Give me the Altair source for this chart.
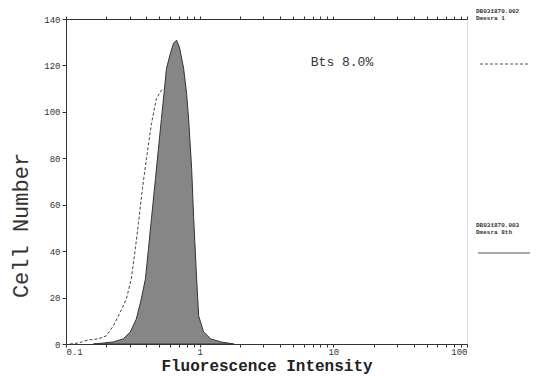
import altair as alt
import pandas as pd

# Filled histogram (stained sample)
fill_x = [0.160, 0.190, 0.226, 0.268, 0.303, 0.336, 0.366, 0.393, 0.414, 0.436,
          0.467, 0.492, 0.518, 0.546, 0.565, 0.605, 0.638, 0.672, 0.708, 0.758,
          0.798, 0.826, 0.871, 0.902, 0.949, 0.983, 1.07, 1.21, 1.44, 1.80]
fill_y = [0, 0.4, 0.9, 2.2, 5.2, 10.8, 19.4, 28.1, 41.0, 54.0,
          71.3, 84.3, 97.2, 110.2, 118.8, 125.3, 129.6, 130.9, 127.5, 118.8,
          108.0, 97.2, 75.6, 54.0, 28.1, 12.1, 5.2, 2.2, 0.9, 0]

# Dashed histogram (control)
dash_x = [0.107, 0.123, 0.146, 0.174, 0.200, 0.226, 0.255, 0.283, 0.308, 0.330,
          0.348, 0.373, 0.400, 0.436, 0.475, 0.518, 0.555, 0.638, 0.758, 0.871,
          0.949, 1.07, 1.27]
dash_y = [0, 0.4, 1.7, 2.2, 3.5, 7.8, 13.8, 19.4, 28.1, 41.0,
          51.8, 67.0, 79.9, 95.0, 105.8, 109.3, 110.2, 100, 70, 30,
          8, 1.5, 0]

x_ticks = [0.1, 0.2, 0.3, 0.4, 0.5, 0.6, 0.7, 0.8, 0.9,
           1, 2, 3, 4, 5, 6, 7, 8, 9,
           10, 20, 30, 40, 50, 60, 70, 80, 90, 100]
y_ticks = [0, 20, 40, 60, 80, 100, 120, 140]

annotation = "Bts 8.0%"
legend1 = ["DB031870.002", "Dmesra 1"]
legend2 = ["DB031870.003", "Dmesra 8th"]

FONT = "Liberation Mono"

df_fill = pd.DataFrame({"x": fill_x, "y": fill_y})
df_dash = pd.DataFrame({"x": dash_x, "y": dash_y})

xscale = alt.Scale(type="log", domain=[0.1, 100], nice=False)
yscale = alt.Scale(domain=[0, 140], nice=False)

label_expr = "(datum.value == 0.1 || datum.value == 1 || datum.value == 10 || datum.value == 100) ? datum.label : ''"

xaxis = alt.Axis(values=x_ticks, format="~g", labelExpr=label_expr, labelOverlap=False,
                 labelFlush=True, title="Fluorescence Intensity", titleFont=FONT,
                 titleFontSize=16, titleFontWeight="bold", titleColor="#222",
                 titlePadding=1, labelFont=FONT, labelFontSize=9, labelColor="#333",
                 tickSize=3, tickColor="#333", domainColor="#333", grid=False,
                 labelPadding=0, orient="bottom")
top_axis = alt.Axis(orient="top", values=x_ticks, labels=False, title=None,
                    tickSize=3, tickColor="#333", domainColor="#333", grid=False)
yaxis = alt.Axis(values=y_ticks, title="Cell Number", titleFont=FONT, titleFontSize=22,
                 titleFontWeight="normal", titleColor="#333", titleX=-34, titleY=206,
                 labelFont=FONT, labelFontSize=9, labelColor="#333", tickSize=4,
                 tickColor="#333", domainColor="#333", grid=False, labelPadding=2)

dash = alt.Chart(df_dash).mark_line(color="#444", strokeWidth=1, strokeDash=[3, 2]).encode(
    x=alt.X("x:Q", scale=xscale, axis=xaxis),
    y=alt.Y("y:Q", scale=yscale, axis=yaxis),
)

area = alt.Chart(df_fill).mark_area(fill="#868686", stroke="#333", strokeWidth=1).encode(
    x=alt.X("x:Q", scale=xscale, axis=top_axis),
    y=alt.Y("y:Q", scale=yscale, axis=yaxis),
)

dummy = pd.DataFrame({"a": [0]})

txt = alt.Chart(dummy).mark_text(font=FONT, fontSize=13, color="#333", align="center").encode(
    x=alt.value(276), y=alt.value(43), text=alt.value(annotation))


def leg_text(label, ypos):
    return alt.Chart(dummy).mark_text(font=FONT, fontSize=6, fontWeight="bold", color="#333",
                                      align="left", baseline="middle").encode(
        x=alt.value(410), y=alt.value(ypos), text=alt.value(label))


leg_t1a = leg_text(legend1[0], -8)
leg_t1b = leg_text(legend1[1], -1)
leg_t2a = leg_text(legend2[0], 206)
leg_t2b = leg_text(legend2[1], 213)

leg_l1 = alt.Chart(dummy).mark_rule(color="#555", strokeWidth=1, strokeDash=[3, 2]).encode(
    x=alt.value(414), x2=alt.value(464), y=alt.value(45))
leg_l2 = alt.Chart(dummy).mark_rule(color="#555", strokeWidth=1).encode(
    x=alt.value(412), x2=alt.value(464), y=alt.value(234))

chart = alt.layer(dash, area, txt, leg_t1a, leg_t1b, leg_t2a, leg_t2b,
                  leg_l1, leg_l2).resolve_axis(x="independent").properties(
    width=401, height=325,
    autosize=alt.AutoSizeParams(type="none"),
    padding={"left": 58, "top": 11, "right": 74, "bottom": 32},
).configure_view(stroke="#333", strokeWidth=1).configure(background="white")

chart.save("out.html", embed_options={"renderer": "svg", "actions": False})
